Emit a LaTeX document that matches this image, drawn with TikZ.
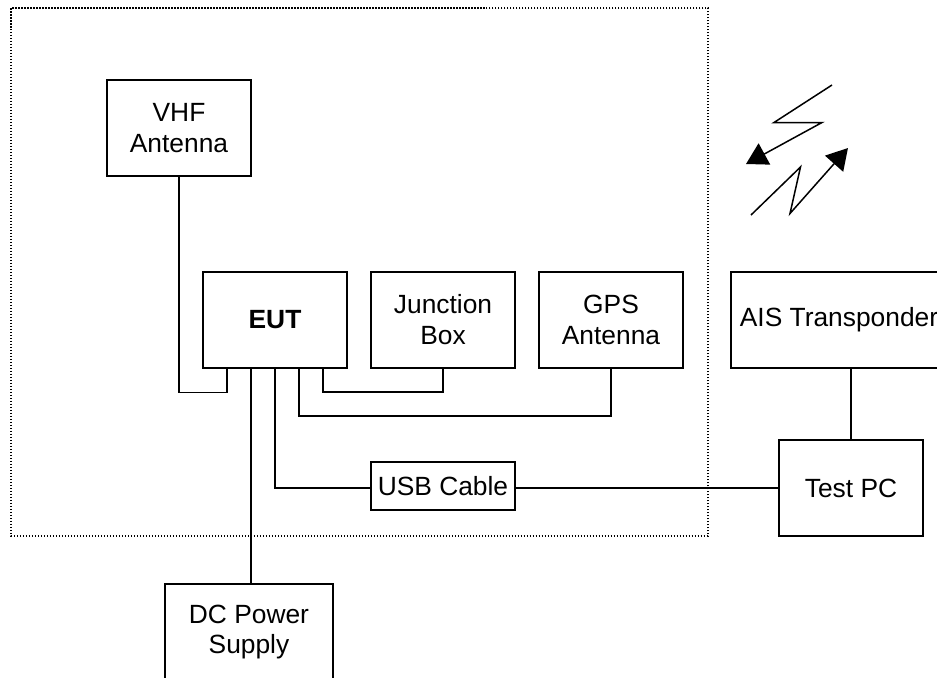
\documentclass[tikz,border=0pt]{standalone}
\usepackage{fontspec}
\setmainfont{Liberation Sans}
\usetikzlibrary{arrows.meta}
\tikzset{
	unitbox/.style={draw,line width=.03cm,inner sep=0pt,align=center,font=\fontsize{15}{17.6}\selectfont,minimum width=2.88cm,minimum height=1.92cm},
	cable/.style={line width=.03cm},
	radio/.style={line width=.03cm,-{Triangle[length=.42cm,width=.48cm]}}
}
\begin{document}
\begin{tikzpicture}[x=.02cm,y=-.02cm]
				\useasboundingbox (0,0) rectangle (937,677);
				\clip (0,0) rectangle (937,677);
				\draw[line width=.026cm,dash pattern=on .03cm off .03cm] (11,8) rectangle (708,536);
				\node[unitbox] (vhf) at (179,128) {VHF\\Antenna};
				\node[unitbox] (eut) at (275,320) {\textbf{EUT}};
				\node[unitbox] (junction) at (443,320) {Junction\\Box};
				\node[unitbox] (gps) at (611,320) {GPS\\Antenna};
				\node[unitbox,minimum width=4.32cm] (ais) at (839,320) {AIS Transponder};
				\node[unitbox] (pc) at (851,488) {Test PC};
				\node[unitbox,minimum height=.96cm] (usb) at (443,486) {USB Cable};
				\node[unitbox,minimum width=3.36cm] (dc) at (249,632) {DC Power\\Supply};
				\coordinate (vhfport) at (227,368);
				\coordinate (dcport) at (251,368);
				\coordinate (usbport) at (275,368);
				\coordinate (gpsport) at (299,368);
				\coordinate (junctionport) at (323,368);
				\coordinate (dcin) at (251,584);
				\coordinate (aisport) at (851,368);
				\draw[cable] (vhf.south) -- ++(0,216) -| (vhfport);
				\draw[cable] (dcport) -- (dcin);
				\draw[cable] (usbport) |- (usb.west |- pc.west);
				\draw[cable] (gpsport) -- ++(0,48) -| (gps.south);
				\draw[cable] (junctionport) -- ++(0,24) -| (junction.south);
				\draw[cable] (usb.east |- pc.west) -- (pc.west);
				\draw[cable] (aisport) -- (pc.north);
				\draw[radio] (832,85) -- (774,122.5) -- (822,122.5) -- (746,164);
				\draw[radio] (751,215) -- (800.5,167) -- (790,213.5) -- (848,148);
			\end{tikzpicture}
\end{document}
